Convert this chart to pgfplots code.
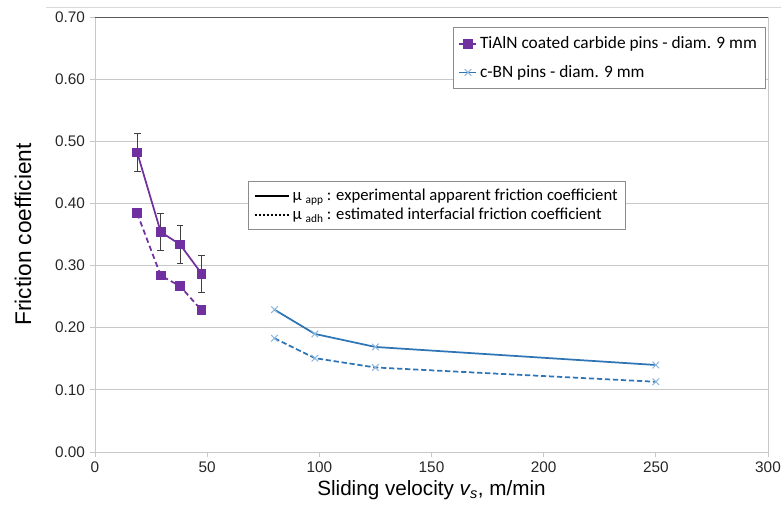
\documentclass[border=0pt]{standalone}
\usepackage{pgfplots}
\pgfplotsset{compat=1.18}
\usepackage{fontspec}
\setmainfont{Liberation Sans}
\newfontfamily\calibri{Carlito}
\definecolor{tialn}{HTML}{7030A0}
\definecolor{cbn}{HTML}{2E75B6}
\definecolor{cbnmark}{HTML}{8FB8DE}
\definecolor{gridc}{HTML}{C8C8C8}

% 1 px of the reference = 0.75pt
\begin{document}
\begin{tikzpicture}
\begin{axis}[
    scale only axis,
    width=504.75pt, height=326.25pt,
    xmin=0, xmax=300, ymin=0, ymax=0.7,
    xtick={0,50,...,300},
    ytick={0,0.1,0.2,0.3,0.4,0.5,0.6,0.7},
    yticklabel style={/pgf/number format/.cd, fixed, fixed zerofill, precision=2},
    /pgf/number format/assume math mode=true,
    ticklabel style={font=\fontsize{11.5}{13}\selectfont, text=black!85},
    xtick pos=left, ytick pos=left,
    tick align=outside,
    major tick length=4pt,
    tick style={gridc, line width=0.6pt},
    ymajorgrids,
    grid style={gridc, line width=0.7pt},
    axis line style={gridc, line width=0.7pt},
    xlabel={Sliding velocity \textit{v\textsubscript{s}}, m/min},
    ylabel={Friction coefficient},
    xlabel style={font=\fontsize{15.5}{17}\selectfont, yshift=1pt},
    ylabel style={font=\fontsize{17}{19}\selectfont, yshift=11pt},
    legend style={
        at={(rel axis cs:0.996,0.977)}, anchor=north east,
        font=\calibri\fontsize{13}{15}\selectfont,
        draw=black!45, line width=0.6pt,
        row sep=7pt, inner xsep=4pt, inner ysep=5pt,
        cells={anchor=west},
    },
    legend image code/.code={
        \draw[#1] (0cm,0cm) -- (0.45cm,0cm);
        \draw[#1, solid] plot coordinates {(0.225cm,0cm)};
    },
]
\coordinate (sw) at (rel axis cs:0,0);
\coordinate (ne) at (rel axis cs:1,1);

% TiAlN, apparent friction coefficient (solid) with error bars
\addplot[tialn, line width=1.3pt, mark=square*, mark size=3pt,
    mark options={fill=tialn, solid},
    error bars/.cd, y dir=both, y explicit,
    error bar style={black!75, line width=0.6pt},
    error mark options={rotate=90, mark size=2.5pt, black!75, line width=0.6pt}]
coordinates {
    (18.8, 0.482) +- (0, 0.030)
    (29.3, 0.354) +- (0, 0.030)
    (37.9, 0.334) +- (0, 0.030)
    (47.5, 0.287) +- (0, 0.030)
};
\addlegendentry{TiAlN coated carbide pins - diam. 9 mm}

% c-BN, apparent friction coefficient (solid)
\addplot[cbn, line width=1.3pt, mark=x, mark size=3.5pt,
    mark options={cbnmark, line width=0.8pt, solid}]
coordinates {
    (80, 0.229)
    (98, 0.190)
    (125, 0.169)
    (250, 0.140)
};
\addlegendentry{c-BN pins - diam. 9 mm}

% TiAlN, interfacial friction coefficient (dashed)
\addplot[tialn, line width=1.3pt, dash pattern=on 4pt off 2.5pt,
    mark=square*, mark size=3pt, mark options={fill=tialn, solid},
    forget plot]
coordinates {
    (18.8, 0.384)
    (29.3, 0.284)
    (37.9, 0.267)
    (47.5, 0.228)
};

% c-BN, interfacial friction coefficient (dashed)
\addplot[cbn, line width=1.3pt, dash pattern=on 4pt off 2pt,
    mark=x, mark size=3.5pt, mark options={cbnmark, line width=0.8pt, solid},
    forget plot]
coordinates {
    (80, 0.183)
    (98, 0.151)
    (125, 0.136)
    (250, 0.113)
};

\draw[black!65, line width=0.7pt] (rel axis cs:0,1) -- (rel axis cs:1,1);
\end{axis}

% second legend: line styles
\begin{axis}[
    scale only axis,
    width=504.75pt, height=326.25pt,
    xmin=0, xmax=300, ymin=0, ymax=0.7,
    hide axis,
    legend style={
        at={(rel axis cs:0.227,0.622)}, anchor=north west,
        font=\calibri\fontsize{12.5}{14.5}\selectfont,
        draw=black!45, line width=0.6pt,
        row sep=0pt, inner xsep=4pt, inner ysep=3.5pt,
        cells={anchor=west},
    },
    legend image code/.code={
        \draw[#1] (0cm,0cm) -- (0.9cm,0cm);
    },
]
\addlegendimage{black, line width=1.8pt}
\addlegendentry{μ \raisebox{-0.4ex}{\fontsize{8.5}{9}\selectfont app} : experimental apparent friction coefficient}
\addlegendimage{black, line width=1.8pt, dash pattern=on 1.6pt off 1.4pt}
\addlegendentry{μ \raisebox{-0.4ex}{\fontsize{8.5}{9}\selectfont adh} : estimated interfacial friction coefficient}
\end{axis}

\draw[black!15, line width=0.6pt] ([xshift=-36.75pt, yshift=7.5pt]sw |- ne) -- ([xshift=9.75pt, yshift=7.5pt]ne);

\pgfresetboundingbox
\path ([xshift=-71.25pt, yshift=-44.25pt]sw) rectangle ([xshift=9.75pt, yshift=12.75pt]ne);
\end{tikzpicture}
\end{document}
